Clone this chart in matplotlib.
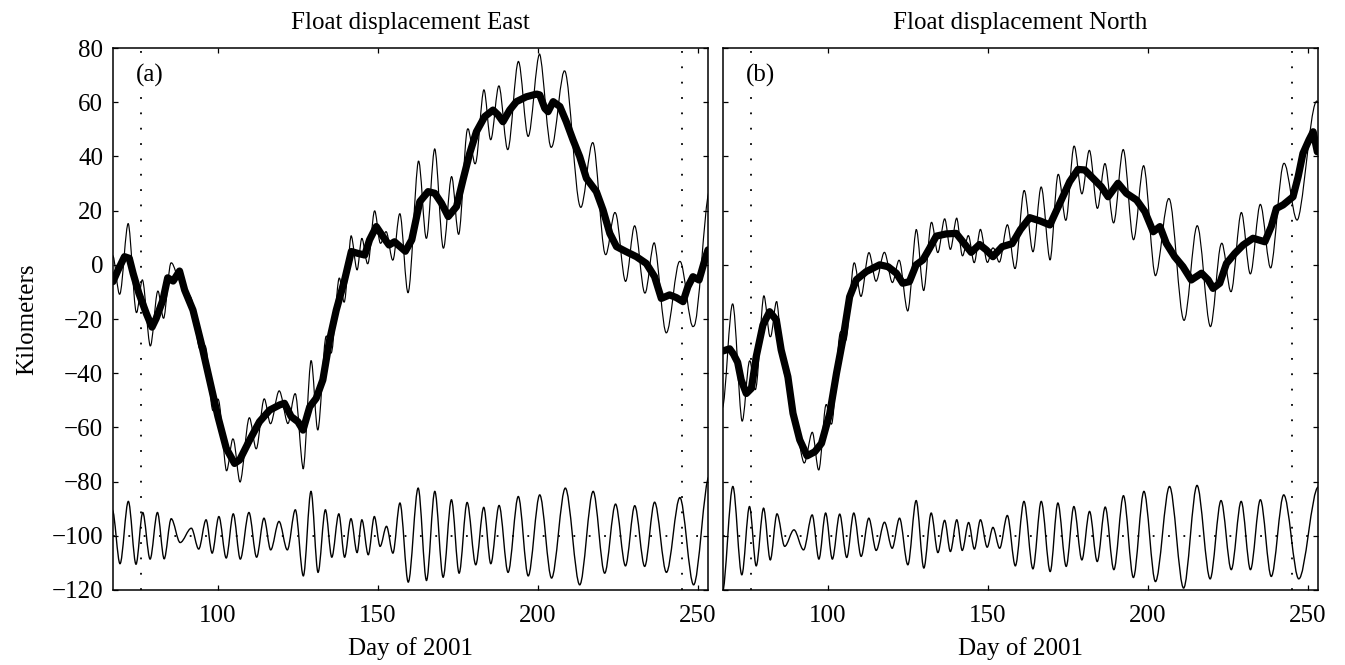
import numpy as np
import matplotlib
matplotlib.use('Agg')
import matplotlib.pyplot as plt
from matplotlib.path import Path
from matplotlib.patches import PathPatch

# low-passed float track (thick line), day of 2001 / km
east_days = [67.2, 68.8, 70.8, 72.3, 73.5, 75.3, 77.6, 79.4, 80.7, 82.8, 84.3, 86.0, 88.0,
             89.6, 92.2, 94.8, 97.4, 100.0, 102.6, 105.2, 106.8, 109.9, 113.0, 116.2, 119.3,
             120.8, 122.9, 125.0, 126.6, 128.7, 130.7, 132.8, 134.9, 137.0, 139.6, 141.7,
             143.8, 145.9, 147.4, 149.5, 151.6, 153.5, 155.2, 158.6, 160.6, 163.1, 165.7,
             167.8, 169.9, 172.0, 174.6, 176.6, 178.7, 180.8, 183.4, 186.0, 187.6, 189.1,
             191.2, 193.3, 196.4, 199.6, 200.6, 202.2, 203.2, 204.8, 206.9, 208.9, 211.0,
             213.1, 215.2, 218.3, 220.4, 222.5, 224.6, 227.7, 230.8, 233.9, 236.5, 238.6,
             241.2, 243.3, 245.4, 246.9, 248.5, 250.4, 252.2, 253.2]
east_low = [-6.2, -1.9, 3.0, 2.4, -3.2, -10.5, -17.9, -23.0, -19.8, -13.0, -4.8, -6.0, -2.3,
            -9.3, -16.7, -29.0, -42.5, -56.0, -67.7, -73.3, -72.0, -64.7, -57.9, -53.6, -51.7,
            -51.1, -56.0, -57.9, -61.0, -52.4, -49.3, -42.5, -27.8, -16.7, -5.6, 4.9,
            4.2, 3.6, 9.2, 14.1, 10.4, 7.3, 8.5, 5.0, 9.2, 23.3, 27.0,
            26.4, 22.7, 17.8, 21.5, 31.3, 41.1, 49.1, 54.7, 57.1, 55.3, 52.8,
            57.1, 60.2, 62.0, 63.0, 62.7, 57.7, 56.5, 60.2, 58.4, 52.8, 46.1,
            39.9, 31.9, 27.0, 20.2, 11.6, 6.7, 4.8, 3.0, 0.5, -4.4, -12.4,
            -11.1, -12.1, -13.6, -8.1, -4.4, -5.6, 1.8, 5.5]

north_days = [67.2, 69.3, 70.5, 71.8, 72.9, 74.5, 76.1, 77.6, 79.7, 81.8, 83.9, 85.4, 87.5,
              89.1, 91.2, 93.5, 95.9, 98.0, 100.6, 102.7, 104.7, 106.8, 108.9, 112.0, 116.2,
              118.8, 121.4, 123.4, 125.5, 127.6, 129.7, 131.8, 133.9, 137.0, 140.1, 142.2,
              144.8, 147.4, 149.5, 151.6, 154.5, 157.6, 160.2, 163.1, 166.3, 169.4, 172.5,
              175.6, 178.2, 180.3, 182.9, 185.5, 187.6, 190.7, 193.3, 196.5, 199.1, 201.7,
              203.8, 205.8, 208.4, 211.0, 213.6, 216.8, 218.9, 220.4, 222.5, 224.6, 227.2,
              229.8, 232.9, 236.6, 238.6, 240.2, 242.3, 245.4, 247.0, 248.5, 250.4, 251.7, 253.0]
north_low = [-31.8, -31.0, -33.0, -36.0, -42.5, -47.5, -45.6, -33.9, -22.2, -17.3, -20.4, -31.4, -41.3,
             -54.8, -64.6, -70.5, -69.0, -65.9, -54.8, -40.0, -27.5, -11.8, -5.5, -2.5, 0.0,
             -0.7, -3.1, -6.8, -6.2, 0.0, 1.8, 6.1, 10.6, 11.4, 11.6, 8.5,
             4.6, 7.5, 5.5, 3.0, 6.7, 7.8, 13.0, 17.4, 16.2, 14.7, 22.7,
             30.7, 35.2, 35.0, 31.9, 28.8, 25.1, 30.1, 26.4, 23.9, 19.6, 12.2,
             14.1, 7.9, 3.0, -0.7, -5.6, -3.1, -5.6, -8.7, -6.8, 0.5, 4.2,
             7.3, 9.8, 8.5, 14.1, 20.8, 22.1, 25.1, 32.5, 41.1, 46.1, 49.1, 41.7]

# high-passed residual: successive peaks and troughs (day, km)
east_osc_days = [67.0, 69.4, 72.0, 74.4, 76.5, 78.8, 81.1, 83.2, 85.4, 88.2, 91.7, 94.0, 96.3,
                 98.2, 100.3, 102.6, 104.8, 107.0, 109.7, 112.1, 114.4, 116.5, 119.1, 121.7,
                 124.2, 126.7, 129.1, 131.3, 133.6, 135.6, 137.8, 139.6, 141.6, 143.5, 145.0,
                 147.0, 148.9, 150.7, 152.7, 154.7, 156.9, 159.5, 162.6, 165.2, 167.8, 170.4,
                 173.0, 175.4, 177.9, 180.6, 183.1, 185.3, 187.9, 190.7, 193.9, 197.0, 200.6,
                 204.3, 208.6, 213.1, 217.3, 220.9, 224.3, 227.4, 230.3, 233.4, 236.5, 240.2,
                 244.4, 248.7, 253.6]
east_osc = [9.5, -10.3, 12.7, -10.5, 8.6, -8.6, 8.6, -8.5, 6.3, -2.5, 2.8, -4.9, 5.9,
            -6.4, 7.1, -8.2, 8.1, -8.6, 8.6, -7.9, 6.5, -5.2, 5.3, -5.2,
            9.6, -14.8, 16.4, -13.5, 9.6, -7.9, 8.1, -7.9, 6.3, -6.2, 5.9,
            -7.0, 7.1, -3.9, 3.5, -6.4, 12.1, -17.1, 17.6, -16.5, 16.4, -15.3,
            13.3, -13.8, 12.3, -10.7, 10.5, -10.3, 11.2, -13.5, 14.5, -14.8, 15.1,
            -15.6, 17.6, -18.1, 16.4, -13.8, 11.7, -11.1, 11.1, -11.3, 12.4, -13.5,
            14.1, -18.1, 22.0]

north_osc_days = [67.0, 70.3, 73.1, 75.5, 77.6, 79.9, 82.0, 84.1, 86.5, 89.4, 92.4, 95.1, 97.2,
                  99.3, 101.4, 103.7, 105.9, 108.1, 110.4, 112.8, 115.1, 117.7, 120.1, 122.4,
                  125.0, 127.6, 130.0, 132.3, 134.4, 136.5, 138.3, 140.3, 142.0, 144.0, 145.8,
                  147.7, 149.8, 151.6, 153.7, 156.1, 158.6, 161.3, 164.1, 166.7, 169.5, 171.9,
                  174.5, 176.9, 179.4, 181.8, 184.2, 186.7, 189.4, 192.4, 195.5, 198.8, 202.4,
                  206.8, 211.2, 215.4, 219.5, 222.9, 226.1, 229.2, 232.1, 235.2, 238.6, 242.5,
                  247.2, 253.3]
north_osc = [-21.0, 18.2, -14.4, 10.8, -11.1, 10.2, -8.9, 8.1, -3.9, 2.2, -5.2, 7.7, -8.6,
             8.4, -8.6, 8.0, -8.0, 8.4, -7.6, 6.5, -5.4, 5.0, -4.6, 6.5,
             -10.7, 13.0, -11.9, 8.4, -6.2, 5.7, -5.8, 5.9, -5.4, 4.9, -4.9,
             5.9, -4.2, 3.1, -4.6, 7.5, -11.1, 12.7, -12.2, 12.7, -13.2, 12.1,
             -11.3, 10.8, -8.9, 9.0, -9.5, 10.6, -12.5, 14.8, -15.4, 16.4, -16.9,
             18.2, -19.3, 18.6, -15.9, 13.0, -12.5, 12.7, -12.5, 13.3, -15.0, 15.1,
             -15.9, 18.0]

osc_offset = -100
event_days = [76, 245]
titles = ['Float displacement East', 'Float displacement North']
tags = ['(a)', '(b)']

plt.rcParams['font.family'] = ['Liberation Serif', 'DejaVu Serif']
plt.rcParams['font.size'] = 18
plt.rcParams['axes.linewidth'] = 1.1


def wave_verts(days, vals):
    # smooth curve through the read extrema (flat tangent at each one)
    verts = [(days[0], vals[0])]
    for i in range(len(days) - 1):
        step = (days[i + 1] - days[i]) / 3.0
        verts += [(days[i] + step, vals[i]), (days[i + 1] - step, vals[i + 1]),
                  (days[i + 1], vals[i + 1])]
    codes = [Path.MOVETO] + [Path.CURVE4] * (len(verts) - 1)
    return np.array(verts), codes


fig = plt.figure(figsize=(13.45, 6.65), dpi=100)
axA = fig.add_axes([0.0840, 0.1128, 0.4424, 0.8150])
axB = fig.add_axes([0.5375, 0.1128, 0.4424, 0.8150])

panels = [(axA, east_days, east_low, east_osc_days, east_osc),
          (axB, north_days, north_low, north_osc_days, north_osc)]

for k, (ax, d, low, od, osc) in enumerate(panels):
    verts, codes = wave_verts(od, osc)

    raw = verts.copy()
    raw[:, 1] += np.interp(raw[:, 0], d, low)
    ax.add_patch(PathPatch(Path(raw, codes), facecolor='none', edgecolor='k', lw=0.85, zorder=2))

    ax.plot(d, low, color='k', lw=5.2, solid_joinstyle='round', solid_capstyle='round', zorder=3)

    hp = verts.copy()
    hp[:, 1] += osc_offset
    ax.add_patch(PathPatch(Path(hp, codes), facecolor='none', edgecolor='k', lw=1.0, zorder=2))

    ax.axhline(osc_offset, color='k', lw=1.3, ls=(0, (1, 7.5)), zorder=1)
    for e in event_days:
        ax.axvline(e, color='k', lw=1.3, ls=(0, (1, 7.5)), zorder=1)

    ax.text(74.3, 69.7, tags[k], ha='left', va='center', zorder=6,
            bbox=dict(facecolor='white', edgecolor='none', pad=7))

    ax.set_xlim(67.2, 253.2)
    ax.set_ylim(-120, 80)
    ax.set_xticks([100, 150, 200, 250])
    ax.set_yticks(np.arange(-120, 81, 20))
    ax.tick_params(direction='in', length=3.8, width=0.9, top=True, right=True)
    ax.tick_params(axis='x', pad=11)
    ax.tick_params(axis='y', pad=7)
    ax.set_title(titles[k], pad=14, fontsize=18)
    ax.set_xlabel('Day of 2001', labelpad=7)

axA.set_ylabel('Kilometers', labelpad=10)
axB.set_yticklabels([])

fig.savefig('out.png', dpi=100)
